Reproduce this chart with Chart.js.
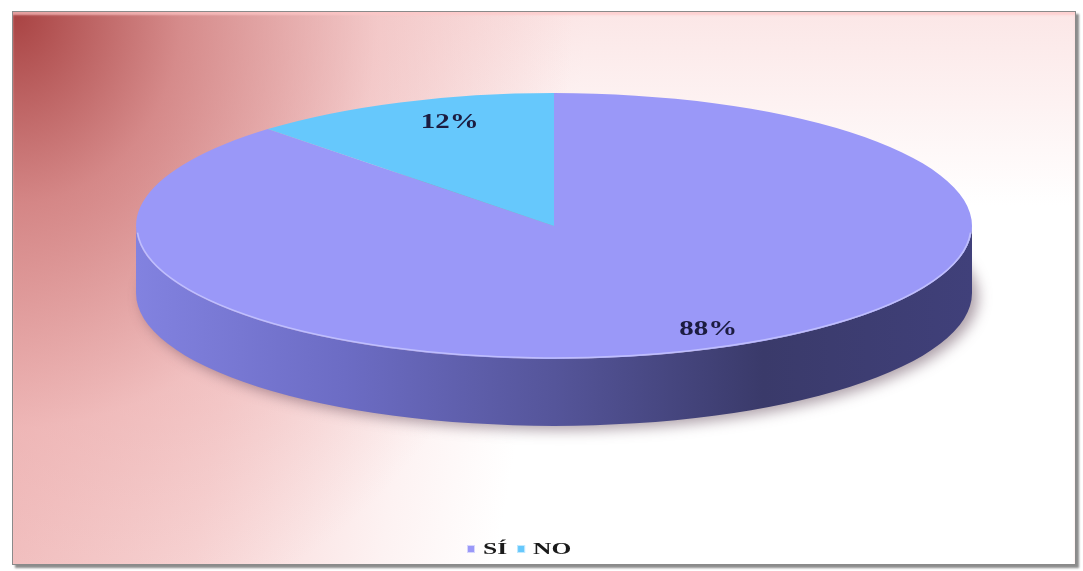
<!DOCTYPE html>
<html>
<head>
<meta charset="utf-8">
<script src="https://cdn.jsdelivr.net/npm/chart.js@4"></script>
<style>
  body { margin: 0; background: #fff; width: 1083px; height: 571px; overflow: hidden; position: relative; }
  #frame {
    position: absolute; left: 12px; top: 11px; width: 1062px; height: 552px;
    border: 1px solid #8a8a8a;
    box-shadow: 3px 3px 2px #8c8c8c, inset 0 3px 2px rgba(255,200,200,0.7);
    background:
      radial-gradient(ellipse 560px 640px at 0 0, rgba(168,66,66,1) 0%, rgba(205,120,120,0.8) 30%, rgba(232,165,165,0.4) 65%, rgba(255,255,255,0) 100%),
      linear-gradient(to bottom, rgba(250,222,222,0.75) 0%, rgba(255,255,255,0) 35%),
      linear-gradient(100deg, #f0baba 0%, #f8d6d6 24%, #fdf2f2 40%, #ffffff 50%);
  }
  #wrap { position: absolute; left: 12px; top: 12px; width: 1063px; height: 553px; }
</style>
</head>
<body>
<div id="frame"></div>
<div id="wrap"><canvas id="pie"></canvas></div>
<script>
// respuestas y porcentajes
const labels = ['SÍ', 'NO'];
const values = [88, 12];

// colores de la cara superior y del borde lateral
const topColors = ['#9a98f8', '#66c8fc'];
const sideColors = [
  ['#8282e0', '#6c6cc4', '#55559a', '#3a3a6a', '#40407a'],
  ['#4aa8dc', '#3a90c4', '#2c78a8', '#1e5a80', '#22648c']
];

// geometría del disco 3D (coordenadas del canvas)
const PIE_CX = 542;
const PIE_CY = 214;
const TILT = 0.318;
const DEPTH = 67;
const LABEL_DX = 25;

// tramos de un arco que quedan de frente (0..PI)
function frontRanges(start, end) {
  const out = [];
  for (let k = -1; k <= 2; k++) {
    const lo = Math.max(start, k * 2 * Math.PI);
    const hi = Math.min(end, k * 2 * Math.PI + Math.PI);
    if (hi > lo) out.push([lo, hi]);
  }
  return out;
}

// texto ensanchado como en el gráfico original
function wideText(ctx, text, x, y, sx) {
  ctx.save();
  ctx.translate(x, y);
  ctx.scale(sx, 1);
  ctx.fillText(text, 0, 0);
  ctx.restore();
}

const pie3d = {
  id: 'pie3d',
  beforeDatasetsDraw(chart) {
    const ctx = chart.ctx;
    const arcs = chart.getDatasetMeta(0).data;
    const R = arcs[0].outerRadius;
    const ry = R * TILT;

    // sombra debajo del disco
    ctx.save();
    ctx.filter = 'blur(7px)';
    ctx.fillStyle = 'rgba(70,40,60,0.45)';
    ctx.beginPath();
    ctx.ellipse(PIE_CX + 6, PIE_CY + DEPTH + 4, R, ry, 0, 0, Math.PI * 2);
    ctx.fill();
    ctx.restore();

    // paredes laterales
    arcs.forEach((arc, i) => {
      frontRanges(arc.startAngle, arc.endAngle).forEach(([a1, a2]) => {
        const g = ctx.createLinearGradient(PIE_CX - R, 0, PIE_CX + R, 0);
        const cols = sideColors[i];
        cols.forEach((c, j) => g.addColorStop(j / (cols.length - 1), c));
        ctx.fillStyle = g;
        ctx.beginPath();
        ctx.ellipse(PIE_CX, PIE_CY, R, ry, 0, a1, a2);
        ctx.ellipse(PIE_CX, PIE_CY + DEPTH, R, ry, 0, a2, a1, true);
        ctx.closePath();
        ctx.fill();
      });
    });

    // aplastar la torta plana para formar la cara superior
    ctx.save();
    ctx.translate(PIE_CX, PIE_CY);
    ctx.scale(1, TILT);
    ctx.translate(-arcs[0].x, -arcs[0].y);
  },
  afterDatasetsDraw(chart) {
    const ctx = chart.ctx;
    ctx.restore();
    const arcs = chart.getDatasetMeta(0).data;
    const R = arcs[0].outerRadius;

    // brillo en el canto delantero
    ctx.save();
    ctx.strokeStyle = 'rgba(200,200,255,0.8)';
    ctx.lineWidth = 1.5;
    ctx.beginPath();
    ctx.ellipse(PIE_CX, PIE_CY, R - 1, R * TILT - 1, 0, 0.05, Math.PI - 0.05);
    ctx.stroke();
    ctx.restore();

    // etiquetas de porcentaje
    ctx.save();
    ctx.font = 'bold 21px "Liberation Serif"';
    ctx.fillStyle = '#1c1c40';
    ctx.textAlign = 'center';
    ctx.textBaseline = 'middle';
    arcs.forEach((arc, i) => {
      const mid = (arc.startAngle + arc.endAngle) / 2;
      const r = R * 0.84;
      const x = PIE_CX + Math.cos(mid) * r + LABEL_DX;
      const y = PIE_CY + Math.sin(mid) * r * TILT;
      wideText(ctx, chart.data.datasets[0].data[i] + '%', x, y, 1.38);
    });
    ctx.restore();
  },
  afterDraw(chart) {
    // leyenda inferior
    const ctx = chart.ctx;
    const ds = chart.data.datasets[0];
    const font = 'bold 17px "Liberation Serif"';
    const sx = 1.5, box = 8, gap = 8, itemGap = 10;
    ctx.save();
    ctx.font = font;
    const widths = chart.data.labels.map(l => box + gap + ctx.measureText(l).width * sx);
    const total = widths.reduce((a, b) => a + b, 0) + itemGap * (widths.length - 1);
    let x = 455;
    const y = 537;
    ctx.textBaseline = 'middle';
    chart.data.labels.forEach((l, i) => {
      ctx.fillStyle = ds.backgroundColor[i];
      ctx.fillRect(x, y - box / 2, box, box);
      ctx.strokeStyle = 'rgba(255,255,255,0.6)';
      ctx.lineWidth = 1;
      ctx.strokeRect(x + 0.5, y - box / 2 + 0.5, box - 1, box - 1);
      ctx.fillStyle = '#1a1a1a';
      wideText(ctx, l, x + box + gap, y + 1, sx);
      x += widths[i] + itemGap;
    });
    ctx.restore();
  }
};

new Chart(document.getElementById('pie'), {
  type: 'pie',
  data: {
    labels: labels,
    datasets: [{
      data: values,
      backgroundColor: topColors,
      borderWidth: 0,
      clip: false
    }]
  },
  options: {
    responsive: true,
    maintainAspectRatio: false,
    animation: false,
    events: [],
    radius: 418,
    plugins: {
      tooltip: { enabled: false },
      legend: { display: false }
    }
  },
  plugins: [pie3d]
});
</script>
</body>
</html>
